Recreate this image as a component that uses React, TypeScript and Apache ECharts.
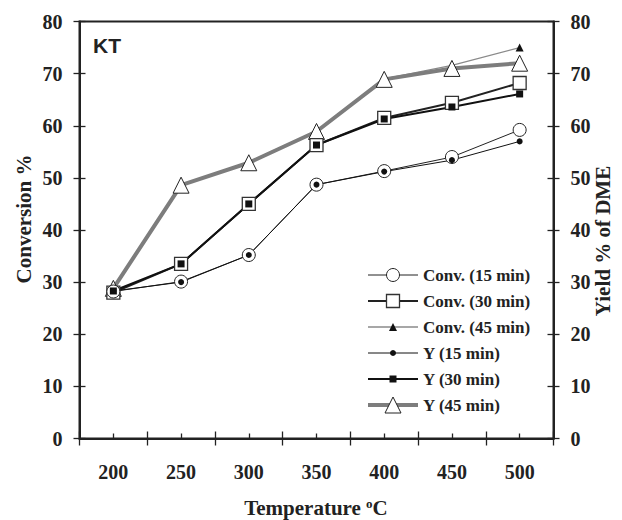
import React, { useEffect, useRef } from "react";
import * as echarts from "echarts";

const categories = ["200", "250", "300", "350", "400", "450", "500"];
const yTicks = [0, 10, 20, 30, 40, 50, 60, 70, 80];

const conv15 = [28.2, 30.1, 35.2, 48.7, 51.3, 54.0, 59.2];
const conv30 = [28.0, 33.5, 45.0, 56.3, 61.5, 64.4, 68.2];
const conv45 = [29.0, 48.6, 53.0, 59.0, 69.0, 71.6, 75.0];
const y15 = [28.3, 30.0, 35.2, 48.7, 51.2, 53.4, 57.0];
const y30 = [28.3, 33.5, 45.0, 56.3, 61.3, 63.6, 66.1];
const y45 = [28.8, 48.6, 52.9, 58.9, 68.9, 71.0, 72.0];

const legendNames = [
  "Conv. (15 min)",
  "Conv. (30 min)",
  "Conv. (45 min)",
  "Y (15 min)",
  "Y (30 min)",
  "Y (45 min)",
];

const SERIF = "'Liberation Serif', 'Times New Roman', serif";
const SANS = "'Liberation Sans', Arial, sans-serif";

type Sty = {
  name: string;
  data: number[];
  lineColor: string;
  lineWidth: number;
  symbol: string;
  size: number;
  fill: string;
  border: string;
  borderWidth: number;
};

export default function App() {
  const ref = useRef<HTMLDivElement>(null);
  useEffect(() => {
    if (!ref.current) return;
    const chart = echarts.init(ref.current, undefined, { renderer: "svg" });

    const styles: Sty[] = [
      { name: legendNames[2], data: conv45, lineColor: "#8a8a8a", lineWidth: 1.3, symbol: "triangle", size: 8, fill: "#111", border: "#111", borderWidth: 0 },
      { name: legendNames[5], data: y45, lineColor: "#7d7d7d", lineWidth: 4, symbol: "triangle", size: 16, fill: "#fff", border: "#222", borderWidth: 1 },
      { name: legendNames[1], data: conv30, lineColor: "#222", lineWidth: 2, symbol: "rect", size: 13, fill: "#fff", border: "#333", borderWidth: 1.3 },
      { name: legendNames[0], data: conv15, lineColor: "#222", lineWidth: 1, symbol: "circle", size: 13, fill: "#fff", border: "#222", borderWidth: 1 },
      { name: legendNames[4], data: y30, lineColor: "#111", lineWidth: 2, symbol: "rect", size: 7, fill: "#111", border: "#111", borderWidth: 0 },
      { name: legendNames[3], data: y15, lineColor: "#111", lineWidth: 1, symbol: "circle", size: 6, fill: "#111", border: "#111", borderWidth: 0 },
    ];

    const series = styles.map((s) => ({
      name: s.name,
      type: "line",
      xAxisIndex: 0,
      yAxisIndex: 0,
      data: s.data,
      symbol: s.symbol,
      symbolSize: s.size,
      showSymbol: true,
      lineStyle: { color: s.lineColor, width: s.lineWidth },
      itemStyle: { color: s.fill, borderColor: s.border, borderWidth: s.borderWidth, opacity: 1 },
    }));

    // custom legend
    const legendTop = 275;
    const legendStep = 26;
    const legendGraphics: any[] = [];
    legendNames.forEach((nm, i) => {
      const s = styles.find((t) => t.name === nm)!;
      const cy = legendTop + i * legendStep;
      legendGraphics.push({
        type: "line",
        shape: { x1: 368, y1: cy, x2: 418, y2: cy },
        style: { stroke: s.lineColor, lineWidth: s.lineWidth },
        silent: true,
      });
      const cx = 393;
      const r = s.size / 2;
      if (s.symbol === "circle") {
        legendGraphics.push({
          type: "circle",
          shape: { cx, cy, r },
          style: { fill: s.fill, stroke: s.border, lineWidth: s.borderWidth || 0 },
        });
      } else if (s.symbol === "rect") {
        legendGraphics.push({
          type: "rect",
          shape: { x: cx - r, y: cy - r, width: s.size, height: s.size },
          style: { fill: s.fill, stroke: s.border, lineWidth: s.borderWidth || 0 },
        });
      } else {
        legendGraphics.push({
          type: "polygon",
          shape: { points: [[cx, cy - r], [cx + r, cy + r], [cx - r, cy + r]] },
          style: { fill: s.fill, stroke: s.border, lineWidth: s.borderWidth || 0 },
        });
      }
      legendGraphics.push({
        type: "text",
        x: 423,
        y: cy,
        style: {
          text: nm,
          font: `bold 17px ${SERIF}`,
          fill: "#222",
          textAlign: "left",
          textVerticalAlign: "middle",
        },
      });
    });

    const yLabel = {
      fontFamily: SERIF,
      fontWeight: "bold",
      fontSize: 20,
      color: "#222",
      margin: 17,
    };

    const option: any = {
      animation: false,
      backgroundColor: "#fff",
      grid: {
        left: 79.5,
        right: 68.5,
        top: 21.5,
        bottom: 81.5,
        show: true,
        borderColor: "#222",
        borderWidth: 2,
        backgroundColor: "transparent",
      },
      xAxis: [
        {
          type: "category",
          data: categories,
          boundaryGap: true,
          position: "bottom",
          axisLine: { show: true, lineStyle: { color: "#222", width: 2 } },
          axisTick: { show: true, inside: false, length: 7, interval: 0, lineStyle: { color: "#222", width: 1.3 } },
          axisLabel: { fontFamily: SERIF, fontWeight: "bold", fontSize: 20, color: "#222", margin: 23, interval: 0 },
          splitLine: { show: false },
        },
        {
          type: "category",
          data: categories,
          boundaryGap: true,
          position: "bottom",
          axisLine: { show: false },
          axisTick: { show: true, inside: true, length: 7, interval: 0, lineStyle: { color: "#222", width: 1.3 } },
          axisLabel: { show: false },
          splitLine: { show: false },
        },
        {
          type: "category",
          data: categories,
          boundaryGap: true,
          position: "bottom",
          axisLine: { show: false },
          axisTick: { show: true, inside: true, length: 5, interval: 0, alignWithLabel: true, lineStyle: { color: "#222", width: 1.3 } },
          axisLabel: { show: false },
          splitLine: { show: false },
        },
      ],
      yAxis: [
        {
          type: "value",
          position: "left",
          min: yTicks[0],
          max: yTicks[yTicks.length - 1],
          interval: 10,
          axisLine: { show: true, lineStyle: { color: "#222", width: 2 } },
          axisTick: { show: true, inside: false, length: 6, lineStyle: { color: "#222", width: 1.3 } },
          axisLabel: yLabel,
          splitLine: { show: false },
        },
        {
          type: "value",
          position: "right",
          min: yTicks[0],
          max: yTicks[yTicks.length - 1],
          interval: 10,
          axisLine: { show: true, lineStyle: { color: "#222", width: 2 } },
          axisTick: { show: true, inside: false, length: 6, lineStyle: { color: "#222", width: 1.3 } },
          axisLabel: yLabel,
          splitLine: { show: false },
        },
        {
          type: "value",
          position: "left",
          min: 0,
          max: 80,
          interval: 10,
          axisLine: { show: false },
          axisTick: { show: true, inside: true, length: 6, lineStyle: { color: "#222", width: 1.3 } },
          axisLabel: { show: false },
          splitLine: { show: false },
        },
        {
          type: "value",
          position: "right",
          min: 0,
          max: 80,
          interval: 10,
          axisLine: { show: false },
          axisTick: { show: true, inside: true, length: 6, lineStyle: { color: "#222", width: 1.3 } },
          axisLabel: { show: false },
          splitLine: { show: false },
        },
      ],
      series,
      graphic: [
        {
          type: "text",
          x: 93,
          y: 45,
          style: { text: "KT", font: `bold 21px ${SANS}`, fill: "#222", textAlign: "left", textVerticalAlign: "middle" },
        },
        {
          type: "text",
          x: 24,
          y: 219,
          rotation: Math.PI / 2,
          style: { text: "Conversion %", font: `bold 21px ${SERIF}`, fill: "#222", textAlign: "center", textVerticalAlign: "middle" },
        },
        {
          type: "text",
          x: 603,
          y: 241,
          rotation: Math.PI / 2,
          style: { text: "Yield % of DME", font: `bold 21px ${SERIF}`, fill: "#222", textAlign: "center", textVerticalAlign: "middle" },
        },
        {
          type: "text",
          x: 316,
          y: 508,
          style: {
            text: "Temperature {sup|o}C",
            font: `bold 21px ${SERIF}`,
            fill: "#222",
            textAlign: "center",
            textVerticalAlign: "middle",
            rich: {
              sup: { fontFamily: SERIF, fontWeight: "bold", fontSize: 13, fill: "#222", verticalAlign: "top", padding: [0, 0, 10, 0] },
            },
          },
        },
        ...legendGraphics,
      ],
    };
    chart.setOption(option);
    return () => chart.dispose();
  }, []);

  return (
    <div
      ref={ref}
      style={{ position: "fixed", left: 0, top: 0, width: 622, height: 520, background: "#fff" }}
    />
  );
}
